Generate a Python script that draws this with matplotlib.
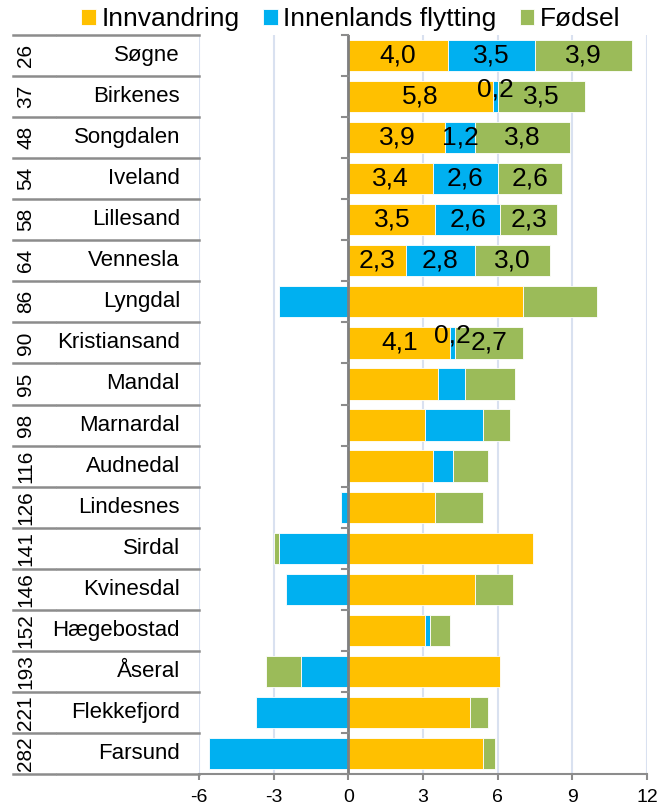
import matplotlib
matplotlib.use("Agg")
import matplotlib.pyplot as plt
import matplotlib.transforms as mtransforms
from matplotlib.lines import Line2D

plt.rcParams["font.family"] = ["Liberation Sans", "DejaVu Sans"]

# Data

kommuner = [
    "Søgne", "Birkenes", "Songdalen", "Iveland", "Lillesand", "Vennesla",
    "Lyngdal", "Kristiansand", "Mandal", "Marnardal", "Audnedal", "Lindesnes",
    "Sirdal", "Kvinesdal", "Hægebostad", "Åseral", "Flekkefjord", "Farsund"
]
rang = [26, 37, 48, 54, 58, 64, 86, 90, 95, 98, 116, 126, 141, 146, 152, 193, 221, 282]

innvandring = [4.0, 5.8, 3.9, 3.4, 3.5, 2.3, 7.0, 4.1, 3.6, 3.1, 3.4, 3.5, 7.4, 5.1, 3.1, 6.1, 4.9, 5.4]
innenlands = [3.5, 0.2, 1.2, 2.6, 2.6, 2.8, -2.8, 0.2, 1.1, 2.3, 0.8, -0.3, -2.8, -2.5, 0.2, -1.9, -3.7, -5.6]
fodsel = [3.9, 3.5, 3.8, 2.6, 2.3, 3.0, 3.0, 2.7, 2.0, 1.1, 1.4, 1.9, -0.2, 1.5, 0.8, -1.4, 0.7, 0.5]

# rows that carry value labels
med_tall = ["Søgne", "Birkenes", "Songdalen", "Iveland", "Lillesand", "Vennesla", "Kristiansand"]

serier = [
    ("Innvandring", innvandring, "#FFC000"),
    ("Innenlands flytting", innenlands, "#00B0F0"),
    ("Fødsel", fodsel, "#9BBB59"),
]

x_ticks = [-6, -3, 0, 3, 6, 9, 12]

# Figure

fig = plt.figure(figsize=(6.72, 8.09), dpi=100)
ax = fig.add_axes([199 / 672, 1 - 774 / 809, 448 / 672, 739 / 809])

n = len(kommuner)
ypos = list(range(n))

pos_left = [0.0] * n
neg_left = [0.0] * n

for navn, verdier, farge in serier:
    lefts = []
    for i, v in enumerate(verdier):
        if v >= 0:
            lefts.append(pos_left[i])
            pos_left[i] += v
        else:
            lefts.append(neg_left[i])
            neg_left[i] += v
    ax.barh(ypos, verdier, left=lefts, height=0.76, color=farge,
            edgecolor="white", linewidth=0.6, label=navn, zorder=2)

    for i, v in enumerate(verdier):
        if kommuner[i] in med_tall:
            xc = lefts[i] + v / 2
            dy = 5 if abs(v) < 0.5 else 0
            ax.annotate(f"{v:.1f}".replace(".", ","), (xc, i),
                        xytext=(0, dy), textcoords="offset points",
                        ha="center", va="center", fontsize=19, zorder=4)

ax.set_xlim(-6, 12)
ax.set_ylim(n - 0.5, -0.5)

ax.set_xticks(x_ticks)
ax.set_xticklabels([str(t) for t in x_ticks], fontsize=14)
ax.tick_params(axis="x", direction="out", length=4, width=1.5, color="#8c8c8c", pad=7)
ax.set_yticks([])

ax.grid(axis="x", color="#D9E1F0", linewidth=1.5, zorder=0)
ax.set_axisbelow(True)

for side in ["top", "right", "left"]:
    ax.spines[side].set_visible(False)
ax.spines["bottom"].set_color("#8c8c8c")
ax.spines["bottom"].set_linewidth(1.5)

# zero line with small ticks at row borders
ax.axvline(0, color="#7f7f7f", linewidth=2, zorder=3)
for b in range(n + 1):
    ax.plot([-0.25, 0], [b - 0.5, b - 0.5], color="#8c8c8c", linewidth=1.5,
            zorder=3, clip_on=False)

# Left table: rank and municipality name

trans = mtransforms.blended_transform_factory(fig.transFigure, ax.transData)

for i in range(n):
    ax.text(26 / 672, i, str(rang[i]), transform=trans, rotation=90,
            ha="center", va="center", fontsize=15)
    ax.text(180 / 672, i, kommuner[i], transform=trans,
            ha="right", va="center", fontsize=16)

for b in range(n + 1):
    for x0, x1 in [(13, 55), (57, 199)]:
        fig.add_artist(Line2D([x0 / 672, x1 / 672], [b - 0.5, b - 0.5],
                              transform=trans, color="#8c8c8c", linewidth=1.8))

# Legend

ax.legend(loc="center", bbox_to_anchor=(0.522, 0.976), bbox_transform=fig.transFigure,
          ncol=3, frameon=False, fontsize=19, handlelength=0.55, handleheight=0.55,
          handletextpad=0.2, columnspacing=0.9, borderpad=0)

fig.savefig("out.png", dpi=100)
